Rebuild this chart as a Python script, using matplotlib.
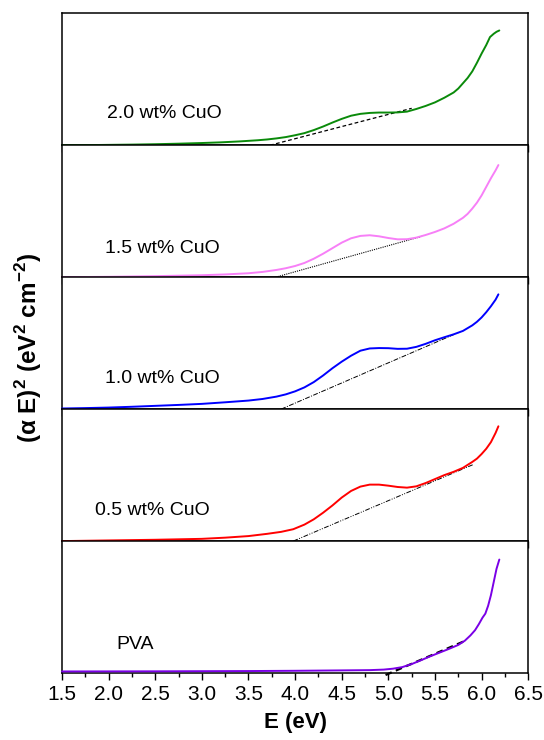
import numpy as np
import matplotlib
matplotlib.use("Agg")
import matplotlib.pyplot as plt
from matplotlib.ticker import MultipleLocator, FormatStrFormatter

plt.rcParams['font.family'] = ['Liberation Sans', 'DejaVu Sans']
plt.rcParams['mathtext.fontset'] = 'custom'
plt.rcParams['mathtext.rm'] = 'Liberation Sans'
plt.rcParams['mathtext.bf'] = 'Liberation Sans:bold'

# curves (arbitrary units, each panel scaled 0..1)
e_20 = [1.5, 1.75, 2.0, 2.25, 2.5, 2.75, 3.0, 3.2, 3.4, 3.6, 3.7, 3.8, 3.9, 4.0, 4.1, 4.2, 4.3,
        4.4, 4.5, 4.6, 4.7, 4.8, 4.9, 5.0, 5.1, 5.2, 5.3, 5.4, 5.5, 5.6, 5.7, 5.75, 5.8, 5.85,
        5.9, 5.95, 6.0, 6.05, 6.09, 6.13, 6.16, 6.19]
a_20 = [0.0, 0.001, 0.003, 0.005, 0.008, 0.012, 0.017, 0.022, 0.029, 0.038, 0.044, 0.052, 0.062,
        0.076, 0.092, 0.115, 0.142, 0.172, 0.2, 0.224, 0.238, 0.245, 0.248, 0.248, 0.249, 0.255,
        0.275, 0.298, 0.325, 0.36, 0.40, 0.43, 0.47, 0.51, 0.56, 0.625, 0.695, 0.76, 0.82, 0.845,
        0.86, 0.87]
e_15 = [1.5, 2.0, 2.5, 3.0, 3.25, 3.5, 3.65, 3.8, 3.9, 4.0, 4.1, 4.2, 4.3, 4.4, 4.5, 4.6, 4.7,
        4.8, 4.9, 5.0, 5.1, 5.2, 5.3, 5.4, 5.5, 5.6, 5.7, 5.8, 5.85, 5.9, 5.95, 6.0, 6.05, 6.1,
        6.15, 6.18]
a_15 = [0.0, 0.003, 0.008, 0.015, 0.021, 0.03, 0.04, 0.055, 0.068, 0.085, 0.108, 0.14, 0.178,
        0.22, 0.262, 0.295, 0.313, 0.318, 0.31, 0.297, 0.287, 0.288, 0.3, 0.32, 0.343, 0.37,
        0.405, 0.45, 0.48, 0.52, 0.565, 0.62, 0.685, 0.75, 0.81, 0.85]
e_10 = [1.5, 1.75, 2.0, 2.25, 2.5, 2.75, 3.0, 3.25, 3.5, 3.65, 3.8, 3.9, 4.0, 4.1, 4.2, 4.3,
        4.4, 4.5, 4.6, 4.7, 4.8, 4.9, 5.0, 5.1, 5.2, 5.3, 5.4, 5.5, 5.6, 5.7, 5.8, 5.9, 5.95,
        6.0, 6.05, 6.1, 6.15, 6.18]
a_10 = [0.005, 0.008, 0.012, 0.018, 0.025, 0.032, 0.04, 0.052, 0.065, 0.077, 0.095, 0.112,
        0.135, 0.165, 0.205, 0.255, 0.31, 0.36, 0.405, 0.443, 0.46, 0.463, 0.462, 0.457, 0.458,
        0.472, 0.495, 0.522, 0.545, 0.567, 0.593, 0.635, 0.662, 0.695, 0.735, 0.78, 0.83, 0.87]
e_05 = [1.5, 2.0, 2.5, 3.0, 3.25, 3.5, 3.7, 3.85, 3.98, 4.1, 4.2, 4.3, 4.4, 4.5, 4.6, 4.7, 4.8,
        4.9, 5.0, 5.1, 5.2, 5.3, 5.4, 5.5, 5.6, 5.7, 5.8, 5.9, 5.95, 6.0, 6.05, 6.1, 6.15, 6.18]
a_05 = [0.0, 0.005, 0.01, 0.017, 0.026, 0.038, 0.055, 0.07, 0.09, 0.125, 0.165, 0.215, 0.27,
        0.33, 0.38, 0.413, 0.428, 0.428, 0.42, 0.41, 0.405, 0.415, 0.44, 0.47, 0.5, 0.525, 0.555,
        0.6, 0.625, 0.66, 0.70, 0.75, 0.82, 0.87]
e_pva = [1.5, 2.5, 3.5, 4.0, 4.5, 4.8, 4.95, 5.05, 5.15, 5.25, 5.35, 5.45, 5.55, 5.65, 5.75,
         5.82, 5.88, 5.93, 5.97, 6.01, 6.04, 6.07, 6.1, 6.13, 6.16, 6.19]
a_pva = [0.012, 0.013, 0.015, 0.017, 0.02, 0.022, 0.026, 0.033, 0.045, 0.068, 0.097, 0.127,
         0.155, 0.183, 0.213, 0.245, 0.285, 0.325, 0.37, 0.42, 0.45, 0.51, 0.59, 0.69, 0.79, 0.86]

# linear extrapolation lines (tangents)
tan_e = [[3.73, 5.25], [3.79, 5.36], [3.85, 5.75], [3.98, 5.91], [4.97, 5.81]]
tan_a = [[0.0, 0.28], [0.0, 0.31], [0.0, 0.58], [0.0, 0.58], [-0.015, 0.24]]

labels = ['2.0 wt% CuO', '1.5 wt% CuO', '1.0 wt% CuO', '0.5 wt% CuO', 'PVA']
label_pos = [(1.98, 0.24), (1.96, 0.22), (1.96, 0.235), (1.85, 0.23), (2.08, 0.22)]
colors = ['#0A8A0A', '#F77FF7', '#0000FF', '#FF0000', '#7A00E6']
tan_styles = [dict(ls=(0, (3, 2)), lw=0.9), dict(ls=(0, (1, 1)), lw=0.8),
              dict(ls=(0, (5, 1.5, 1, 1.5)), lw=0.7), dict(ls=(0, (5, 1.5, 1, 1.5, 1, 1.5)), lw=0.7),
              dict(ls=(0, (3, 2)), lw=1.6)]

curves = [(e_20, a_20), (e_15, a_15), (e_10, a_10), (e_05, a_05), (e_pva, a_pva)]

fig, axes = plt.subplots(5, 1, figsize=(5.44, 7.4), dpi=100, sharex=True)
fig.subplots_adjust(left=0.114, right=0.971, top=0.982, bottom=0.0905, hspace=0)

for i, ax in enumerate(axes):
    e, a = curves[i]
    ax.plot(e, a, color=colors[i], lw=1.4, zorder=3, clip_on=False,
            solid_joinstyle='round', solid_capstyle='round')
    ax.plot(tan_e[i], tan_a[i], color='black', zorder=2.8, clip_on=False, **tan_styles[i])
    ax.text(label_pos[i][0], label_pos[i][1], labels[i], fontsize=14, va='center', ha='left')
    ax.set_xlim(1.5, 6.5)
    ax.set_ylim(0, 1)
    ax.set_yticks([])
    ax.xaxis.set_major_locator(MultipleLocator(0.5))
    ax.xaxis.set_minor_locator(MultipleLocator(0.25))
    ax.tick_params(axis='x', which='major', direction='out', length=5, width=1, labelsize=15)
    ax.tick_params(axis='x', which='minor', direction='out', length=3, width=1)
    for sp in ax.spines.values():
        sp.set_linewidth(1.1)
    if i < 4:
        ax.tick_params(axis='x', which='both', labelbottom=False)

axes[-1].xaxis.set_major_formatter(FormatStrFormatter('%.1f'))
axes[-1].set_xlabel('E (eV)', fontsize=16, fontweight='bold', labelpad=6)
fig.text(0.052, 0.53, r'(α E)$^\mathbf{2}$ (eV$^\mathbf{2}$ cm$^\mathbf{-2}$)',
         rotation=90, fontsize=17.5, fontweight='bold', va='center', ha='center')

fig.savefig('out.png', dpi=100)
